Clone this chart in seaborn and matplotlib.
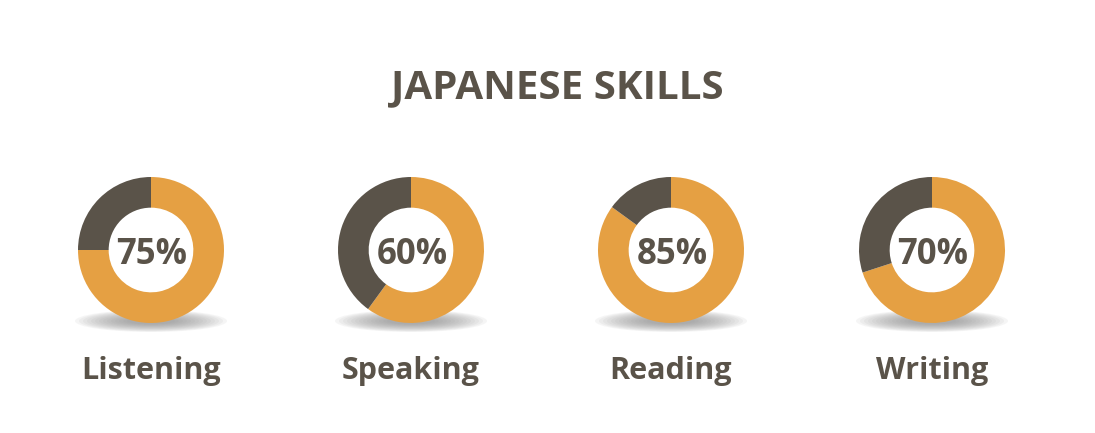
import matplotlib
matplotlib.use("Agg")
import matplotlib.pyplot as plt
from matplotlib.patches import Ellipse
import seaborn as sns

skills = ["Listening", "Speaking", "Reading", "Writing"]
percents = [75, 60, 85, 70]
title = "JAPANESE SKILLS"

orange = "#e5a043"
dark = "#5a5349"

sns.set_theme(style="white")
plt.rcParams['font.family'] = ['Open Sans', 'DejaVu Sans']

W, H = 1095, 433
fig = plt.figure(figsize=(W / 100, H / 100), dpi=100)
fig.patch.set_facecolor("white")
ax = fig.add_axes([0, 0, 1, 1])

centers_x = [151, 411, 671, 932]
cy = H - 250
radius = 73

for cx, name, pct in zip(centers_x, skills, percents):
    # soft shadow below the ring
    for i in range(14):
        w = 152 - i * 8
        h = 22 - i * 1.2
        ax.add_patch(Ellipse((cx, H - 321), w, h, color="#8c8c8c",
                             alpha=0.08, lw=0, zorder=1))
    ax.pie([pct, 100 - pct], colors=[orange, dark], startangle=90,
           counterclock=False, radius=radius, center=(cx, cy),
           wedgeprops=dict(width=radius * 0.42, linewidth=0, zorder=3))
    ax.text(cx + 1, cy - 5, f"{pct}%", ha="center", va="center", fontsize=25,
            fontweight="bold", color=dark, zorder=5)
    ax.text(cx, H - 371, name, ha="center", va="center", fontsize=22,
            fontweight="bold", color=dark)

ax.text(W / 2 + 10, H - 88, title, ha="center", va="center", fontsize=29,
        fontweight="bold", color=dark)

ax.set_xlim(0, W)
ax.set_ylim(0, H)
ax.set_aspect("auto")
ax.axis("off")

fig.savefig("out.png", dpi=100)
